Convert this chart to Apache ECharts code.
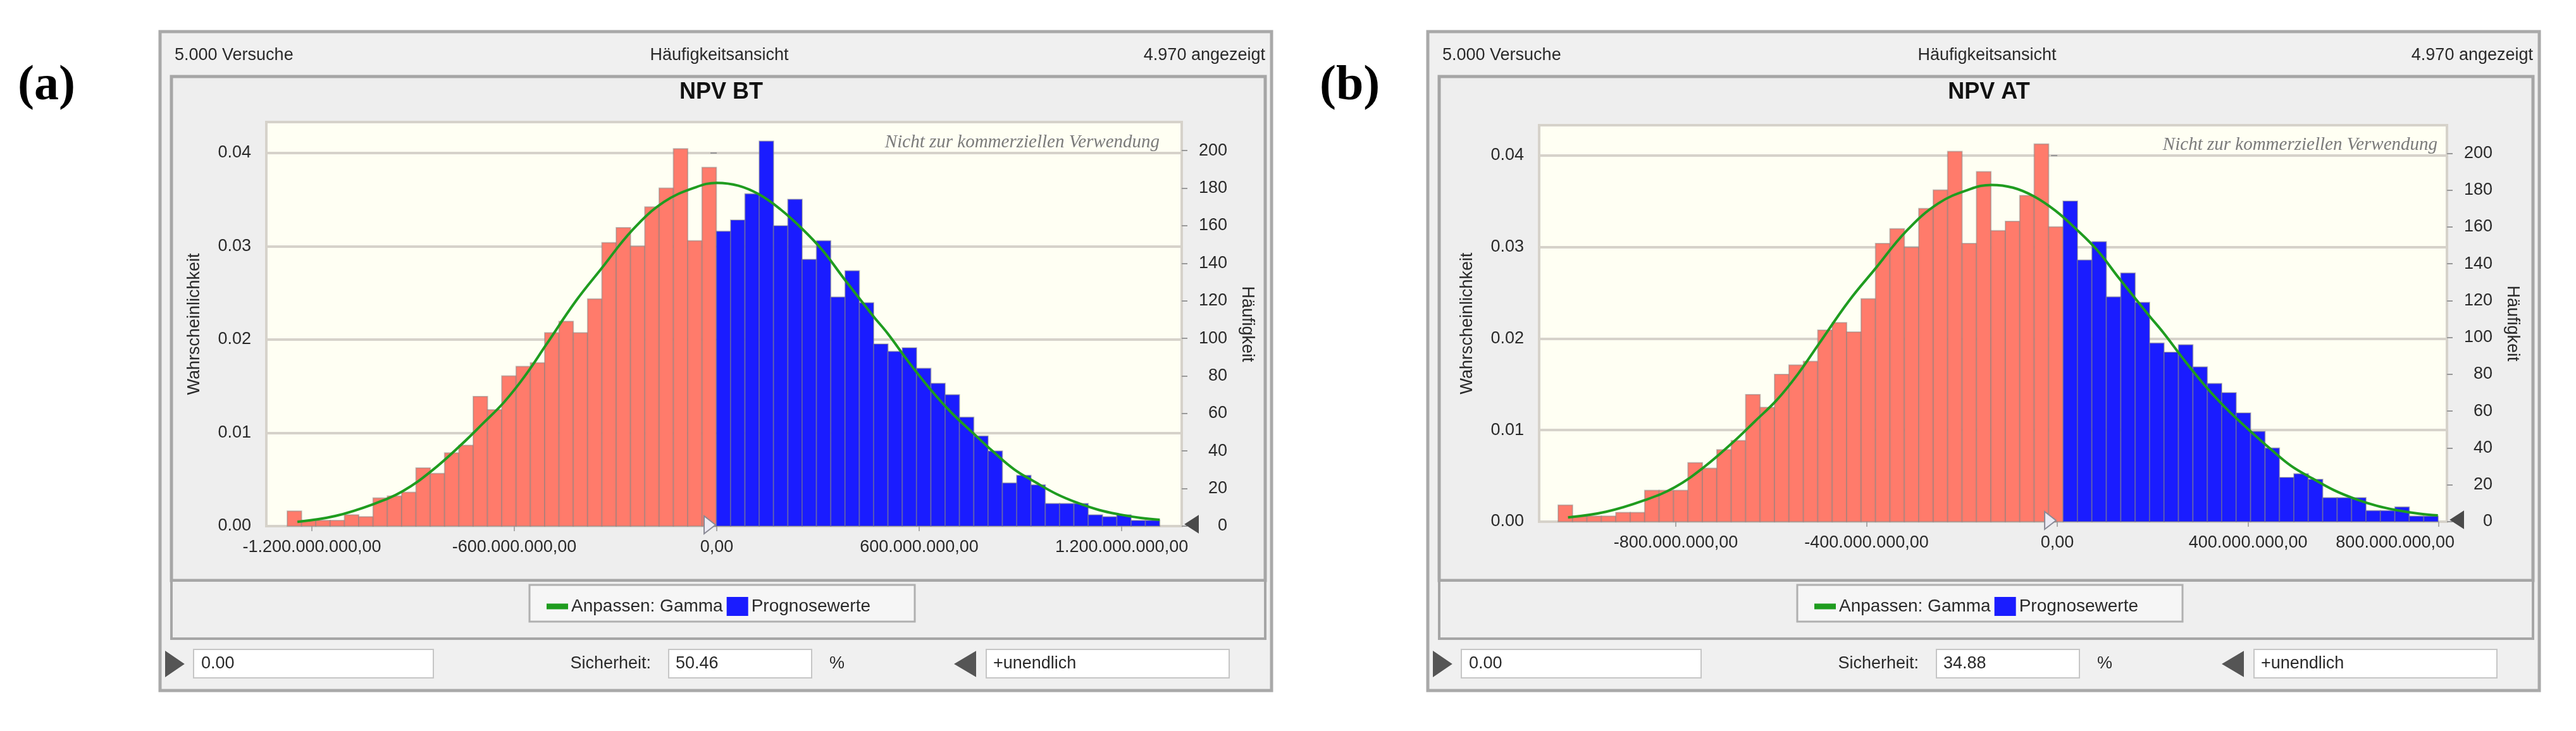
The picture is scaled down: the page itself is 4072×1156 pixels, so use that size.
<!DOCTYPE html>
<html>
<head>
<meta charset="utf-8">
<script src="https://cdn.jsdelivr.net/npm/echarts@6/dist/echarts.min.js"></script>
<style>
  html, body { margin: 0; padding: 0; background: #fff; }
  #chart { width: 4072px; height: 1156px; }
</style>
</head>
<body>
<div id="chart"></div>
<script>
// --- data (x values in millions) ---
const binStartBT = -1273
const binWidthBT = 42.39
const countsBT = [8, 3, 3, 3, 6, 5, 15, 16, 18, 31,
  28, 39, 43, 69, 62, 80, 85, 87, 103, 109,
  103, 121, 151, 159, 149, 170, 180, 201, 152, 191,
  157, 163, 177, 205, 160, 174, 142, 152, 122, 136,
  119, 97, 93, 95, 84, 76, 70, 58, 48, 40,
  23, 27, 22, 12, 12, 12, 6, 5, 6, 3, 3]

const binStartAT = -1046.7
const binWidthAT = 30.25
const countsAT = [9, 3, 3, 3, 5, 5, 17, 17, 17, 32,
  29, 39, 44, 69, 62, 80, 85, 87, 104, 108,
  103, 121, 151, 159, 149, 170, 180, 201, 151, 190,
  158, 163, 177, 205, 160, 174, 142, 152, 122, 135,
  119, 97, 92, 96, 84, 75, 70, 59, 49, 40,
  24, 26, 23, 13, 13, 13, 6, 6, 8, 3, 3]

// Gamma fit (x in millions, y in counts)
const fitXBT = [-1243, -1131, -1018, -930, -844, -756, -694, -630, -568, -506,
  -418, -343, -249, -156, -62, 0, 64, 126, 188, 251,
  313, 375, 463, 506, 570, 632, 694, 758, 819, 881,
  945, 1007, 1069, 1133, 1194, 1256, 1313]
const fitYBT = [2.3, 5.4, 11.7, 18.7, 29.6, 43.6, 54.5, 66.1, 80.1, 96.5,
  119.8, 136.9, 157.9, 172.7, 180.5, 182.8, 181.3, 176.6, 168.8, 158.7,
  147.0, 132.3, 112.0, 102.7, 87.1, 73.1, 60.7, 49.8, 39.7, 30.3,
  23.3, 17.1, 12.4, 8.6, 6.2, 4.4, 3.4]
const fitXAT = [-1026, -946, -865, -802, -741, -678, -634, -588, -544, -500,
  -437, -383, -316, -250, -183, -138, -93, -49, -4, 40,
  85, 129, 192, 222, 268, 312, 357, 402, 446, 490,
  536, 580, 624, 670, 713, 758, 798]
const fitYAT = [2.3, 5.4, 11.7, 18.7, 29.6, 43.6, 54.5, 66.1, 80.1, 96.5,
  119.8, 136.9, 157.9, 172.7, 180.5, 182.8, 181.3, 176.6, 168.8, 158.7,
  147.0, 132.3, 112.0, 102.7, 87.1, 73.1, 60.7, 49.8, 39.7, 30.3,
  23.3, 17.1, 12.4, 8.6, 6.2, 4.4, 3.4]

const xTicksBT = [-1200, -600, 0, 600, 1200]
const xTicksAT = [-800, -400, 0, 400, 800]
const xRangeBT = [-1335, 1378]
const xRangeAT = [-1086.5, 817]

const trialsShown = 4970
const probMax = 0.0433
const certaintyFrom = 0
const certaintyBT = '50.46'
const certaintyAT = '34.88'

// --- styles ---
const FONT = "'Liberation Sans', Arial, sans-serif"
const red = '#ff7b6b'
const blue = '#1a1cff'
const green = '#1f9c1f'
const txt = '#2a2a2a'

function deNum (v) {
  const s = Math.round(Math.abs(v)).toString().replace(/\B(?=(\d{3})+(?!\d))/g, '.')
  return (v < 0 ? '-' : '') + s + ',00'
}

function histItem (params, api) {
  const x0 = api.value(0)
  const x1 = api.value(1)
  const p0 = api.coord([x0, api.value(2)])
  const p1 = api.coord([x1, 0])
  return {
    type: 'rect',
    shape: { x: p0[0], y: p0[1], width: p1[0] - p0[0], height: p1[1] - p0[1] },
    style: {
      fill: (x0 + x1) / 2 >= certaintyFrom ? blue : red,
      stroke: 'rgba(128,128,128,0.45)',
      lineWidth: 2
    }
  }
}

function histSeries (xi, yi, start, width, counts) {
  return {
    type: 'custom',
    name: 'Prognosewerte',
    xAxisIndex: xi,
    yAxisIndex: yi,
    itemStyle: { color: blue },
    renderItem: histItem,
    encode: { x: [0, 1], y: 2 },
    data: counts.map((n, k) => [start + k * width, start + (k + 1) * width, n]),
    z: 2
  }
}

function fitSeries (xi, yi, xs, ys) {
  return {
    type: 'line',
    name: 'Anpassen: Gamma',
    xAxisIndex: xi,
    yAxisIndex: yi,
    data: xs.map((x, i) => [x, ys[i]]),
    smooth: 0.4,
    symbol: 'none',
    lineStyle: { color: green, width: 4 },
    itemStyle: { color: green },
    z: 3
  }
}

function xAxisOpt (gi, range, ticks) {
  const last = ticks[ticks.length - 1]
  return {
    type: 'value',
    gridIndex: gi,
    min: range[0],
    max: range[1],
    axisLine: { show: false },
    splitLine: { show: false },
    axisTick: { show: true, customValues: ticks, length: 8, lineStyle: { color: '#aaa', width: 2 } },
    axisLabel: {
      customValues: ticks,
      margin: 20,
      fontSize: 27,
      color: txt,
      fontFamily: FONT,
      formatter: v => (gi === 1 && v === last) ? '{edge|' + deNum(v * 1e6) + '}' : deNum(v * 1e6),
      rich: { edge: { fontSize: 27, color: txt, fontFamily: FONT, padding: [0, 138, 0, 0] } }
    }
  }
}

function probAxis (gi) {
  return {
    type: 'value',
    gridIndex: gi,
    position: 'left',
    min: 0,
    max: probMax,
    interval: 0.01,
    name: 'Wahrscheinlichkeit',
    nameLocation: 'middle',
    nameGap: 100,
    nameRotate: 90,
    nameTextStyle: { fontSize: 27, color: txt, fontFamily: FONT },
    axisLine: { show: false },
    axisTick: { show: true, length: 10, lineStyle: { color: '#999', width: 2 } },
    axisLabel: { fontSize: 27, color: txt, fontFamily: FONT, margin: 24, showMaxLabel: false, formatter: v => v.toFixed(2) },
    splitLine: { show: true, lineStyle: { color: '#d6d2ca', width: 4 } }
  }
}

function countAxis (gi) {
  return {
    type: 'value',
    gridIndex: gi,
    position: 'right',
    min: 0,
    max: probMax * trialsShown,
    interval: 20,
    name: 'Häufigkeit',
    nameLocation: 'middle',
    nameGap: 90,
    nameRotate: -90,
    nameTextStyle: { fontSize: 27, color: txt, fontFamily: FONT },
    axisLine: { show: false },
    axisTick: { show: true, length: 9, lineStyle: { color: '#999', width: 2 } },
    axisLabel: { fontSize: 27, color: txt, fontFamily: FONT, margin: 72, align: 'right', showMaxLabel: false },
    splitLine: { show: false }
  }
}

const gridStyle = { show: true, backgroundColor: '#fffff3', borderColor: '#d6d2ca', borderWidth: 4 }

const chart = echarts.init(document.getElementById('chart'))
chart.setOption({
  animation: false,
  backgroundColor: '#ffffff',
  textStyle: { fontFamily: FONT },
  grid: [
    Object.assign({ left: 421, top: 193, width: 1447, height: 639 }, gridStyle),
    Object.assign({ left: 2433, top: 198, width: 1435, height: 627 }, gridStyle)
  ],
  xAxis: [xAxisOpt(0, xRangeBT, xTicksBT), xAxisOpt(1, xRangeAT, xTicksAT)],
  yAxis: [probAxis(0), countAxis(0), probAxis(1), countAxis(1)],
  legend: [0, 2004].map(ox => ({
    left: 859 + ox,
    top: 939,
    itemWidth: 34,
    itemHeight: 30,
    itemGap: 6,
    selectedMode: false,
    textStyle: { fontSize: 28, color: txt, fontFamily: FONT },
    data: [
      { name: 'Anpassen: Gamma', icon: 'path://M0,0H34V9H0Z' },
      { name: 'Prognosewerte', icon: 'rect' }
    ]
  })),
  series: [
    histSeries(0, 1, binStartBT, binWidthBT, countsBT),
    fitSeries(0, 1, fitXBT, fitYBT),
    histSeries(1, 3, binStartAT, binWidthAT, countsAT),
    fitSeries(1, 3, fitXAT, fitYAT)
  ]
})

// --- window chrome around each plot ---
function text (x, y, str, font, align, fill, vAlign) {
  return {
    type: 'text', x, y, z: 5,
    style: { text: str, font, fill: fill || txt, align: align || 'left', verticalAlign: vAlign || 'middle' }
  }
}
function box (x, y, w, h, fill, stroke, lw) {
  return { type: 'rect', z: -100, shape: { x, y, width: w, height: h }, style: { fill, stroke, lineWidth: lw } }
}
function tri (pts, fill, stroke) {
  return { type: 'polygon', z: 6, shape: { points: pts }, style: { fill, stroke: stroke || fill, lineWidth: 2 } }
}

function panel (ox, xi, yi, title, certainty, tag, tagX, markRight) {
  const f = '27px ' + FONT
  const zeroX = chart.convertToPixel({ xAxisIndex: xi }, certaintyFrom)
  const baseY = chart.convertToPixel({ yAxisIndex: yi }, 0)
  const endX = chart.convertToPixel({ xAxisIndex: xi }, xi === 0 ? xRangeBT[1] : xRangeAT[1])
  const topY = chart.convertToPixel({ yAxisIndex: yi }, 0.04 * trialsShown)
  return [
    box(ox + 253, 50, 1757, 1042, '#f0f0f0', '#a9a9a9', 5),
    box(ox + 271, 121, 1729, 797, '#eeeeee', '#a6a6a6', 5),
    box(ox + 271, 918, 1729, 92, '#efefef', '#a6a6a6', 4),
    box(ox + 837, 925, 609, 58, '#f6f6f6', '#b0b0b0', 3),
    text(ox + 276, 88, '5.000 Versuche', f),
    text(ox + 1137, 88, 'Häufigkeitsansicht', f, 'center'),
    text(ox + 2000, 88, '4.970 angezeigt', f, 'right'),
    text(ox + 1140, 146, title, 'bold 36px ' + FONT, 'center', '#111'),
    text(markRight, topY - 2, 'Nicht zur kommerziellen Verwendung', 'italic 29px "Liberation Serif", serif', 'right', '#7a7a7a', 'bottom'),
    text(tagX, 137, tag, 'bold 78px "Liberation Serif", serif', 'left', '#000'),
    // certainty grabbers on the axis
    tri([[zeroX - 20, baseY - 16], [zeroX - 20, baseY + 12], [zeroX - 2, baseY - 2]], '#ecebf4', '#8a8a96'),
    tri([[endX + 26, baseY - 16], [endX + 26, baseY + 10], [endX + 6, baseY - 3]], '#4a4a4a'),
    // input row
    tri([[ox + 262, 1031], [ox + 262, 1069], [ox + 290, 1050]], '#555'),
    box(ox + 306, 1027, 379, 45, '#ffffff', '#c6c6c6', 2),
    text(ox + 318, 1050, '0.00', f),
    text(ox + 1029, 1050, 'Sicherheit:', f, 'right'),
    box(ox + 1057, 1027, 226, 45, '#ffffff', '#c6c6c6', 2),
    text(ox + 1068, 1050, certainty, f),
    text(ox + 1311, 1050, '%', f),
    tri([[ox + 1542, 1031], [ox + 1542, 1069], [ox + 1510, 1050]], '#555'),
    box(ox + 1559, 1027, 384, 45, '#ffffff', '#c6c6c6', 2),
    text(ox + 1570, 1050, '+unendlich', f)
  ]
}

chart.setOption({
  graphic: [].concat(
    panel(0, 0, 1, 'NPV BT', certaintyBT, '(a)', 28, 1833),
    panel(2004, 1, 3, 'NPV AT', certaintyAT, '(b)', 2086, 3853)
  )
})
</script>
</body>
</html>
